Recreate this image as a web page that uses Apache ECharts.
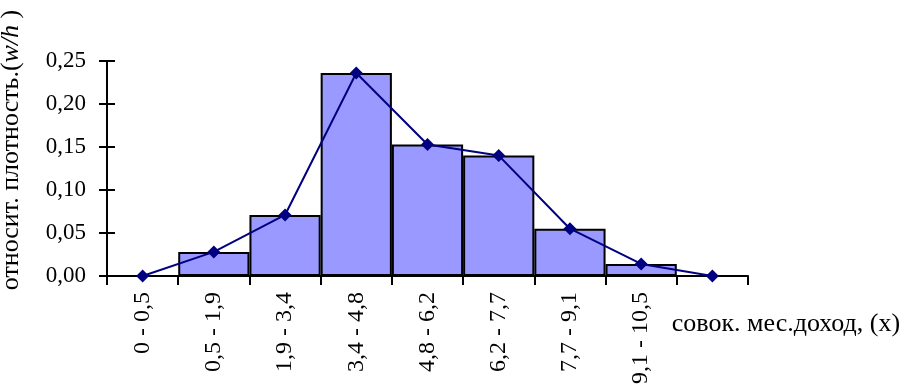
<!DOCTYPE html>
<html>
<head>
<meta charset="utf-8">
<script src="https://cdn.jsdelivr.net/npm/echarts@6/dist/echarts.min.js"></script>
<style>
  html, body { margin: 0; padding: 0; background: #fff; }
  #chart { width: 904px; height: 387px; }
</style>
</head>
<body>
<div id="chart"></div>
<script>
// Интервалы совокупного месячного дохода (последний столбец — пустой хвост полигона)
const categories = ['0 - 0,5', '0,5 - 1,9', '1,9 - 3,4', '3,4 - 4,8', '4,8 - 6,2',
                    '6,2 - 7,7', '7,7 - 9,1', '9,1 - 10,5', ''];
// Относительная плотность w/h по интервалам
const density = [0, 0.028, 0.071, 0.236, 0.153, 0.140, 0.055, 0.014, 0];
// Деления оси Y
const yTicks = [0, 0.05, 0.10, 0.15, 0.20, 0.25];

const FONT = '"Liberation Serif", "Times New Roman", serif';
const fmt = v => v.toFixed(2).replace('.', ',');

const chart = echarts.init(document.getElementById('chart'), null, { renderer: 'canvas' });

chart.setOption({
  animation: false,
  backgroundColor: '#ffffff',
  grid: {
    left: 107, right: 156, top: 61, bottom: 111,
    containLabel: false, outerBoundsMode: 'none'
  },
  xAxis: {
    type: 'category',
    data: categories,
    boundaryGap: true,
    name: 'совок. мес.доход, (x)',
    nameLocation: 'end',
    nameGap: 38,
    nameTextStyle: {
      fontFamily: FONT, fontSize: 26, color: '#000',
      align: 'center', verticalAlign: 'top', padding: [35, 0, 0, 0]
    },
    axisLine: { lineStyle: { color: '#000', width: 2 } },
    axisTick: { show: true, length: 9, inside: false, lineStyle: { color: '#000', width: 2 } },
    axisLabel: {
      interval: 0, rotate: 90, margin: 16,
      fontFamily: FONT, fontSize: 24, color: '#000'
    },
    splitLine: { show: false }
  },
  yAxis: [
    {
      type: 'value',
      min: yTicks[0], max: yTicks[yTicks.length - 1], interval: 0.05,
      name: '{n|относит. плотность.(}{i|w/h}{n| )}',
      nameLocation: 'middle',
      nameGap: 83,
      nameRotate: 90,
      nameTextStyle: {
        padding: [0, 0, 0, 37],
        rich: {
          n: { fontFamily: FONT, fontSize: 26, color: '#000' },
          i: { fontFamily: FONT, fontSize: 26, color: '#000', fontStyle: 'italic' }
        }
      },
      axisLine: { show: true, lineStyle: { color: '#000', width: 2 } },
      axisTick: { show: true, length: 8, lineStyle: { color: '#000', width: 2 } },
      axisLabel: { fontFamily: FONT, fontSize: 23, color: '#000', margin: 21, formatter: fmt },
      splitLine: { show: false }
    },
    {
      // inner half of the crossing tick marks
      type: 'value', position: 'left', offset: 0,
      min: yTicks[0], max: yTicks[yTicks.length - 1], interval: 0.05,
      axisLine: { show: false },
      axisTick: { show: true, inside: true, length: 8, lineStyle: { color: '#000', width: 2 } },
      axisLabel: { show: false },
      splitLine: { show: false }
    }
  ],
  series: [
    {
      type: 'bar',
      data: density,
      barCategoryGap: '0%',
      itemStyle: { color: '#9999FF', borderColor: '#000', borderWidth: 2 },
      z: 2
    },
    {
      type: 'line',
      data: density,
      symbol: 'diamond',
      symbolSize: 13,
      lineStyle: { color: '#000080', width: 2 },
      itemStyle: { color: '#000080' },
      z: 3
    }
  ]
});
</script>
</body>
</html>
